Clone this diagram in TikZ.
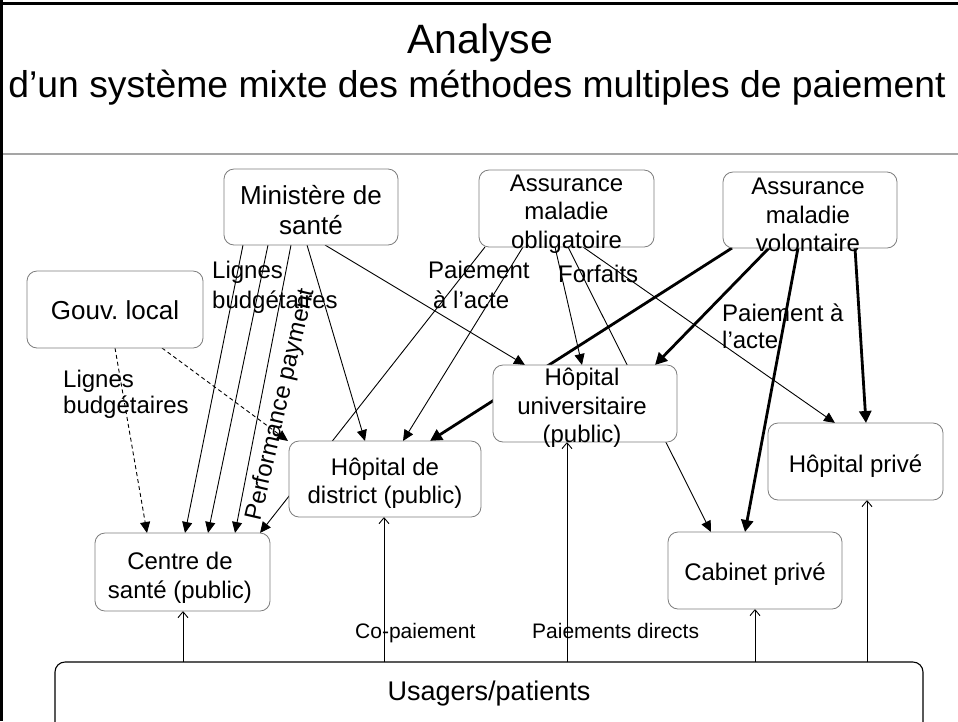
\documentclass[tikz,border=0pt]{standalone}
\usepackage{fontspec}
\setmainfont{Liberation Sans}
\usetikzlibrary{arrows.meta,backgrounds}
\definecolor{boxgray}{RGB}{125,125,125}
\definecolor{rulegray}{RGB}{165,165,165}
\tikzset{
  box/.style={draw=boxgray, line width=0.8pt, rounded corners=10pt, fill=white, inner sep=0pt, outer sep=0pt},
  boxtxt/.style={inner sep=0pt, align=center, font=\fontsize{24}{28.5}\selectfont},
  lbl/.style={inner sep=0pt, font=\fontsize{24}{28}\selectfont, anchor=base west},
  smalllbl/.style={inner sep=0pt, font=\fontsize{21}{24}\selectfont, anchor=base west},
  thinarr/.style={draw=black, line width=0.9pt, -{Triangle[length=11pt,width=10pt]}},
  thickarr/.style={draw=black, line width=2.8pt, -{Triangle[length=12pt,width=12pt]}},
  plainln/.style={draw=black, line width=0.9pt},
  dasharr/.style={draw=black, line width=0.9pt, dash pattern=on 4pt off 3pt, -{Triangle[length=11pt,width=10pt]}},
  uparr/.style={draw=black, line width=0.9pt, -{Straight Barb[length=6pt,width=10pt]}}
}
\begin{document}
\begin{tikzpicture}[x=1pt,y=-1pt]
\useasboundingbox (0,0) rectangle (958,721);
\clip (0,0) rectangle (958,721);
% frame
\draw[line width=3pt] (0,3) -- (958,3);
\draw[line width=3pt] (1.5,0) -- (1.5,721);
\draw[rulegray, line width=1.5pt] (3,154) -- (958,154);
% title
\node[inner sep=0pt, font=\fontsize{41}{41}\selectfont, anchor=base] (title) at (480,53) {Analyse};
\node[inner sep=0pt, font=\fontsize{37.3}{40}\selectfont, anchor=base] (subtitle) at (477,97) {d’un système mixte des méthodes multiples de paiement};
% boxes
\node[box, minimum width=174pt, minimum height=76pt] (min) at (311,207) {};
\node[box, minimum width=175pt, minimum height=77pt] (amo) at (566.5,208.5) {};
\node[box, minimum width=174pt, minimum height=76pt] (amv) at (810,210) {};
\node[box, minimum width=176pt, minimum height=77pt] (gouv) at (115,309.5) {};
\node[box, minimum width=184pt, minimum height=77pt] (univ) at (585,403.5) {};
\node[box, minimum width=192pt, minimum height=76pt] (dist) at (385,479) {};
\node[box, minimum width=175pt, minimum height=78pt] (centre) at (182.5,572) {};
\node[box, minimum width=175pt, minimum height=77pt] (hpriv) at (855.5,461.5) {};
\node[box, minimum width=174pt, minimum height=77pt] (cab) at (755,570.5) {};
\node[box, draw=black, line width=1.1pt, minimum width=868pt, minimum height=73pt] (usag) at (489,698.5) {};
% box texts
\node[boxtxt, font=\fontsize{26}{30}\selectfont] (minT) at (311,210) {Ministère de\\santé};
\node[boxtxt] (amoT) at (566.5,214) {Assurance\\maladie\\obligatoire};
\node[boxtxt] (amvT) at (808,215) {Assurance\\maladie\\volontaire};
\node[boxtxt, font=\fontsize{26}{30}\selectfont] (gouvT) at (115,310) {Gouv.\ local};
\node[boxtxt] (univT) at (582,408) {Hôpital\\universitaire\\(public)};
\node[boxtxt] (distT) at (385,483) {Hôpital de\\district (public)};
\node[boxtxt] (centreT) at (180,578) {Centre de\\santé (public)};
\node[boxtxt] (hprivT) at (855.5,466) {Hôpital privé};
\node[boxtxt] (cabT) at (755,574) {Cabinet privé};
\node[inner sep=0pt, font=\fontsize{27}{30}\selectfont, anchor=base] (usagT) at (489,700) {Usagers/patients};
% connectors behind boxes
\begin{scope}[on background layer]
\draw[thinarr] ([xshift=19pt]min.south west) -- ([xshift=90pt]centre.north west);
\draw[thinarr] ([xshift=44pt]min.south west) -- ([xshift=113pt]centre.north west);
\draw[thinarr] ([xshift=67pt]min.south west) -- ([xshift=140pt]centre.north west);
\draw[thinarr] ([xshift=83pt]min.south west) -- ([xshift=76pt]dist.north west);
\draw[thinarr] ([xshift=101pt]min.south west) -- ([xshift=32pt]univ.north west);
\draw[dasharr] (gouv.south) -- ([xshift=52pt]centre.north west);
\draw[dasharr] ([xshift=135pt]gouv.south west) -- ([xshift=-1pt]dist.north west);
\draw[thinarr] ([xshift=6pt]amo.south west) -- ([xshift=165pt]centre.north west);
\draw[thinarr] ([xshift=44pt]amo.south west) -- ([xshift=114pt]dist.north west);
\draw[thinarr] ([xshift=76pt]amo.south west) -- ([xshift=89pt]univ.north west);
\draw[thinarr] ([xshift=89pt]amo.south west) -- ([xshift=43pt]cab.north west);
\draw[thinarr] ([xshift=104pt]amo.south west) -- ([xshift=67pt]hpriv.north west);
\draw[thickarr] ([xshift=9pt]amv.south west) -- ([xshift=141pt]dist.north west);
\draw[thickarr] ([xshift=46pt]amv.south west) -- ([xshift=162pt]univ.north west);
\draw[thickarr] ([xshift=75pt]amv.south west) -- ([xshift=77pt]cab.north west);
\draw[thickarr] ([xshift=132pt]amv.south west) -- ([xshift=98pt]hpriv.north west);
\draw[uparr] ([xshift=128pt]usag.north west) -- ([xshift=88pt]centre.south west);
\draw[uparr] ([xshift=329pt]usag.north west) -- ([xshift=95pt]dist.south west);
\draw[uparr] ([xshift=512pt]usag.north west) -- ([xshift=74pt]univ.south west);
\draw[uparr] ([xshift=700pt]usag.north west) -- ([xshift=87pt]cab.south west);
\draw[uparr] ([xshift=812pt]usag.north west) -- ([xshift=99pt]hpriv.south west);
\end{scope}
% labels
\node[lbl] (lig1a) at (212,278) {Lignes};
\node[lbl] (lig1b) at (212,308) {budgétaires};
\node[lbl] (lig2a) at (63,387) {Lignes};
\node[lbl] (lig2b) at (63,413) {budgétaires};
\node[lbl] (pa1a) at (428,278) {Paiement};
\node[lbl] (pa1b) at (433,308) {à l’acte};
\node[lbl] (forf) at (558,282) {Forfaits};
\node[lbl] (pa2a) at (722,321) {Paiement à};
\node[lbl] (pa2b) at (722,348) {l’acte};
\node[inner sep=0pt, font=\fontsize{24}{28}\selectfont, rotate=77] (perf) at (281,405) {Performance payment};
\node[smalllbl] (copai) at (355,638) {Co-paiement};
\node[smalllbl] (paidir) at (532,638) {Paiements directs};
\end{tikzpicture}
\end{document}
